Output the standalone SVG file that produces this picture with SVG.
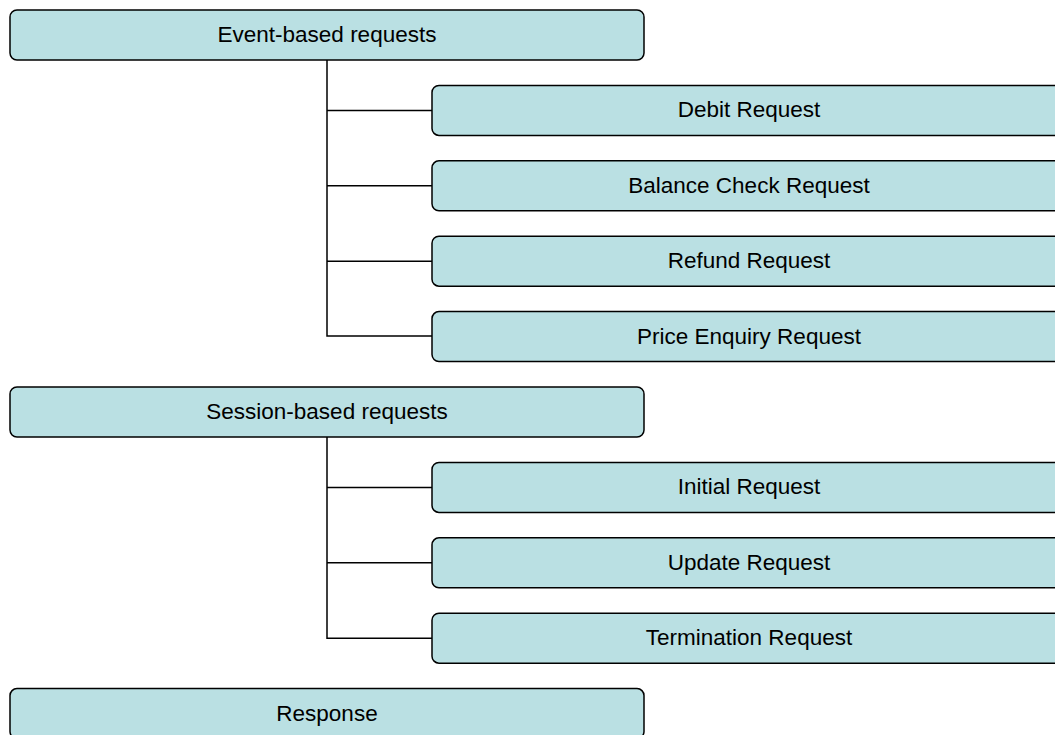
<svg xmlns="http://www.w3.org/2000/svg" width="1055" height="735" viewBox="0 0 1055 735">
<style>
.box{fill:#BAE0E3;stroke:#000;stroke-width:1.5}
.t{font-family:"Liberation Sans",Arial,sans-serif;font-size:22.5px;fill:#000;text-anchor:middle}
.c{fill:none;stroke:#000;stroke-width:1.5}
</style>
<rect width="1055" height="735" fill="#fff"/>
<g id="connectors">
<path class="c" d="M327 60 V336 H432 M327 110.4 H432 M327 185.8 H432 M327 261.2 H432"/>
<path class="c" d="M327 437 V638.2 H432 M327 487.4 H432 M327 562.8 H432"/>
</g>
<g id="n-event"><rect class="box" x="10" y="10" width="634" height="50" rx="7"/><text class="t" x="327" y="42">Event-based requests</text></g>
<g id="n-debit"><rect class="box" x="432" y="85.4" width="634" height="50" rx="7"/><text class="t" x="749" y="117.4">Debit Request</text></g>
<g id="n-balance"><rect class="box" x="432" y="160.8" width="634" height="50" rx="7"/><text class="t" x="749" y="192.8">Balance Check Request</text></g>
<g id="n-refund"><rect class="box" x="432" y="236.2" width="634" height="50" rx="7"/><text class="t" x="749" y="268.2">Refund Request</text></g>
<g id="n-price"><rect class="box" x="432" y="311.6" width="634" height="50" rx="7"/><text class="t" x="749" y="343.6">Price Enquiry Request</text></g>
<g id="n-session"><rect class="box" x="10" y="387" width="634" height="50" rx="7"/><text class="t" x="327" y="419">Session-based requests</text></g>
<g id="n-initial"><rect class="box" x="432" y="462.4" width="634" height="50" rx="7"/><text class="t" x="749" y="494.4">Initial Request</text></g>
<g id="n-update"><rect class="box" x="432" y="537.8" width="634" height="50" rx="7"/><text class="t" x="749" y="569.8">Update Request</text></g>
<g id="n-term"><rect class="box" x="432" y="613.2" width="634" height="50" rx="7"/><text class="t" x="749" y="645.2">Termination Request</text></g>
<g id="n-response"><rect class="box" x="10" y="688.6" width="634" height="50" rx="7"/><text class="t" x="327" y="720.6">Response</text></g>
</svg>
